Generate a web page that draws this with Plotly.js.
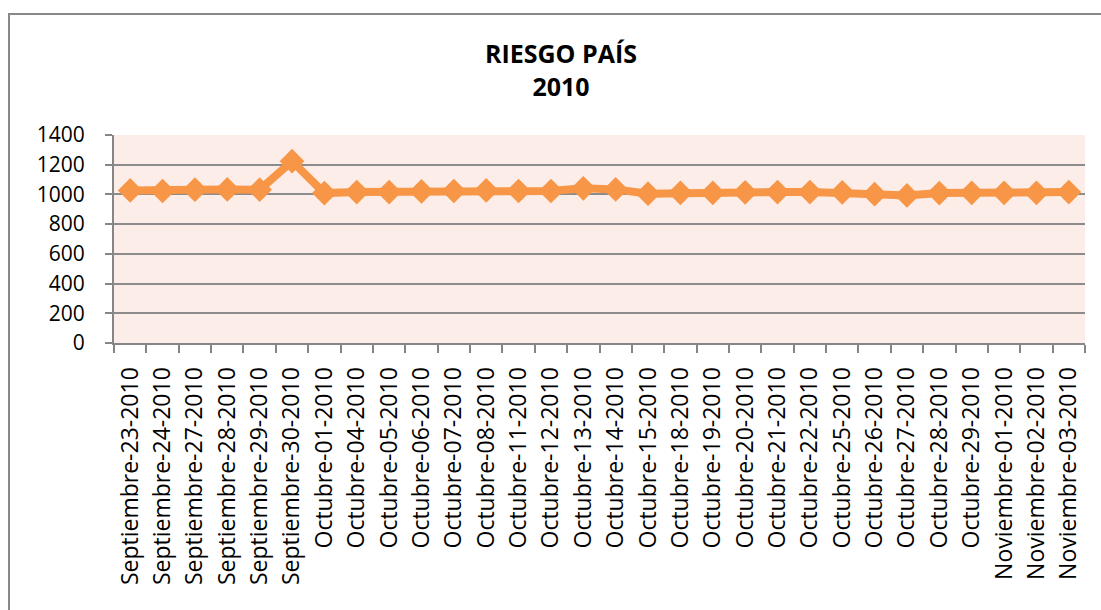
<!DOCTYPE html>
<html>
<head>
<meta charset="utf-8">
<script src="https://cdn.plot.ly/plotly-3.0.1.min.js"></script>
<style>
  html, body { margin: 0; padding: 0; background: #ffffff; overflow: hidden; }
  #frame { position: absolute; left: 8px; top: 13px; width: 1200px; height: 700px; border-left: 2px solid #888888; border-top: 2px solid #888888; box-sizing: border-box; pointer-events: none; }
  #chart { position: absolute; left: 0; top: 0; width: 1101px; height: 610px; }
</style>
</head>
<body>
<div id="chart"></div>
<div id="frame"></div>
<script>
const fechas = [
  "Septiembre-23-2010", "Septiembre-24-2010", "Septiembre-27-2010", "Septiembre-28-2010",
  "Septiembre-29-2010", "Septiembre-30-2010", "Octubre-01-2010", "Octubre-04-2010",
  "Octubre-05-2010", "Octubre-06-2010", "Octubre-07-2010", "Octubre-08-2010",
  "Octubre-11-2010", "Octubre-12-2010", "Octubre-13-2010", "Octubre-14-2010",
  "Octubre-15-2010", "Octubre-18-2010", "Octubre-19-2010", "Octubre-20-2010",
  "Octubre-21-2010", "Octubre-22-2010", "Octubre-25-2010", "Octubre-26-2010",
  "Octubre-27-2010", "Octubre-28-2010", "Octubre-29-2010", "Noviembre-01-2010",
  "Noviembre-02-2010", "Noviembre-03-2010"
];
const riesgoPais = [
  1027, 1023, 1032, 1034, 1032, 1224, 1009, 1016, 1016, 1020,
  1023, 1027, 1023, 1023, 1041, 1034, 1005, 1011, 1011, 1014,
  1016, 1016, 1014, 1002, 993, 1009, 1011, 1011, 1011, 1016
];
const yTicks = [0, 200, 400, 600, 800, 1000, 1200, 1400];
const tituloTexto = "<b>RIESGO PAÍS</b><br><b>2010</b>";

const trace = {
  type: "scatter",
  mode: "lines+markers",
  x: fechas,
  y: riesgoPais,
  line: { color: "#F79646", width: 8 },
  marker: { symbol: "diamond", size: 19, color: "#F79646" },
  hoverinfo: "x+y",
  showlegend: false
};

const layout = {
  width: 1101,
  height: 610,
  margin: { l: 114, r: 16, t: 135, b: 267 },
  paper_bgcolor: "#ffffff",
  plot_bgcolor: "#FCEDE9",
  font: { family: "Open Sans, Liberation Sans, sans-serif", color: "#000000" },
  title: {
    text: tituloTexto,
    font: { family: "Open Sans, sans-serif", size: 25, color: "#000000" },
    x: 561 / 1101, xref: "container", xanchor: "center",
    y: 1 - 63 / 610, yref: "container", yanchor: "middle"
  },
  xaxis: {
    type: "category",
    range: [-0.5, fechas.length - 0.5],
    tickangle: -90,
    tickson: "boundaries",
    ticks: "outside",
    ticklen: 8,
    tickwidth: 1.5,
    tickcolor: "#868686",
    ticklabelstandoff: 13,
    showline: true,
    linecolor: "#868686",
    linewidth: 2,
    showgrid: false,
    tickfont: { family: "Open Sans, sans-serif", size: 23, color: "#000000" },
    automargin: false
  },
  yaxis: {
    range: [0, 1400],
    tickvals: yTicks,
    ticktext: yTicks.map(String),
    ticks: "outside",
    ticklen: 7,
    tickwidth: 1.5,
    tickcolor: "#868686",
    ticklabelstandoff: 16,
    showline: true,
    linecolor: "#868686",
    linewidth: 2,
    showgrid: true,
    gridcolor: "#8C8C8C",
    gridwidth: 1.5,
    zeroline: false,
    tickfont: { family: "Open Sans, sans-serif", size: 21, color: "#000000" },
    automargin: false
  }
};

Plotly.newPlot("chart", [trace], layout, { displayModeBar: false });
</script>
</body>
</html>
